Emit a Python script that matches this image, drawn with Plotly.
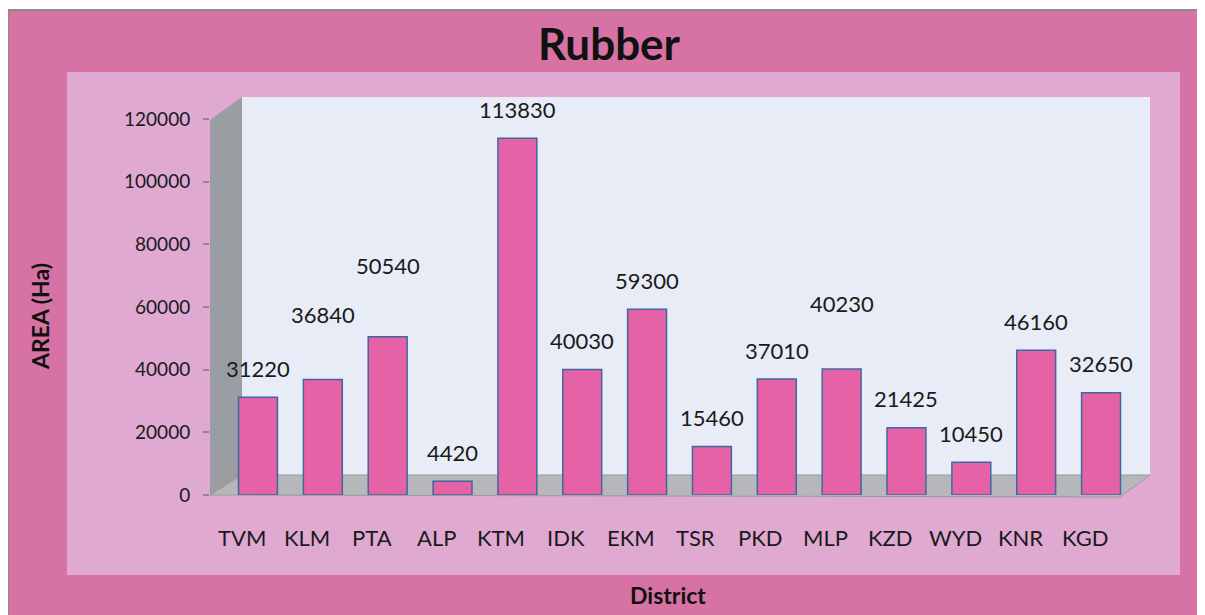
import plotly.graph_objects as go

districts = ["TVM", "KLM", "PTA", "ALP", "KTM", "IDK", "EKM", "TSR", "PKD", "MLP", "KZD", "WYD", "KNR", "KGD"]
area_ha = [31220, 36840, 50540, 4420, 113830, 40030, 59300, 15460, 37010, 40230, 21425, 10450, 46160, 32650]
y_ticks = [0, 20000, 40000, 60000, 80000, 100000, 120000]

# extra upward pixel offset of a few data labels, as placed in the original chart
label_extra_shift = {"KLM": 36, "PTA": 42, "MLP": 36}

# the page body has an 8px margin; reference pixel coords are shifted by it
OFF = 8
W, H = 1205 - OFF, 615 - OFF
L, R, T, B = 210, 1150, 97, 495  # plot area in reference pixels


def px(x):
    return (x - L) / (R - L)


def py(y):
    return (B - y) / (B - T)


FONT = "Lato"
TXT = "#1a1a1a"

fig = go.Figure()
fig.add_trace(go.Bar(
    x=districts,
    y=area_ha,
    width=0.6,
    marker=dict(color="#E562A6", line=dict(color="#41679E", width=1.5)),
    hoverinfo="x+y",
))

# data labels
for d, v in zip(districts, area_ha):
    fig.add_annotation(x=d, y=v, text=str(v), showarrow=False,
                       yshift=29 + label_extra_shift.get(d, 0),
                       font=dict(size=22, color=TXT, family=FONT))

# category labels (shifted left like the 3D original)
for d in districts:
    fig.add_annotation(x=d, y=py(537), yref="paper", text=d, showarrow=False,
                       xshift=-16, yanchor="middle",
                       font=dict(size=22, color=TXT, family=FONT))

# axis titles
fig.add_annotation(x=px(668), y=py(595), xref="paper", yref="paper", text="<b>District</b>",
                   showarrow=False, xanchor="center", yanchor="middle",
                   font=dict(size=23, color="#111", family=FONT))
fig.add_annotation(x=px(40), y=py(317), xref="paper", yref="paper", text="<b>AREA (Ha)</b>",
                   showarrow=False, xanchor="center", yanchor="middle", textangle=-90,
                   font=dict(size=23, color="#111", family=FONT))

shapes = []
# outer frame
shapes.append(dict(type="rect", xref="paper", yref="paper", layer="below",
                   x0=px(8), x1=px(1215), y0=py(625), y1=py(10),
                   fillcolor="#D672A4", line=dict(color="#8a8a8a", width=2)))
# inner lighter panel
shapes.append(dict(type="rect", xref="paper", yref="paper", layer="below",
                   x0=px(67), x1=px(1180), y0=py(575), y1=py(72),
                   fillcolor="#DFA9D2", line=dict(width=0)))
# back wall
shapes.append(dict(type="rect", xref="paper", yref="paper", layer="below",
                   x0=px(242), x1=px(1150), y0=py(475), y1=py(97),
                   fillcolor="#E8ECF6", line=dict(width=0)))
# left side wall
shapes.append(dict(type="path", xref="paper", yref="paper", layer="below",
                   path=f"M {px(210)},{py(495)} L {px(210)},{py(120)} L {px(242)},{py(97)} L {px(242)},{py(475)} Z",
                   fillcolor="#9A9DA1", line=dict(width=0)))
# floor
shapes.append(dict(type="path", xref="paper", yref="paper", layer="below",
                   path=f"M {px(210)},{py(495)} L {px(242)},{py(475)} L {px(1150)},{py(475)} L {px(1120)},{py(497)} Z",
                   fillcolor="#B5B7BA", line=dict(color="#9a9a9a", width=1)))

fig.update_layout(
    width=W, height=H,
    margin=dict(l=L - OFF, r=W - (R - OFF), t=T - OFF, b=H - (B - OFF), pad=0),
    paper_bgcolor="white",
    plot_bgcolor="rgba(0,0,0,0)",
    shapes=shapes,
    showlegend=False,
    title=dict(text="<b>Rubber</b>", x=(609 - OFF) / W, xref="container", xanchor="center",
               y=1 - (45 - OFF) / H, yanchor="middle",
               font=dict(family=FONT, size=44, color="#111")),
    font=dict(family=FONT, color=TXT),
)

fig.update_xaxes(
    range=[-0.74, 13.755],
    showgrid=False, zeroline=False, showline=False,
    ticks="", showticklabels=False,
)
fig.update_yaxes(
    range=[0, 120000 * (B - T) / 376],
    tickvals=y_ticks, ticktext=[str(v) for v in y_ticks],
    showgrid=False, zeroline=False, showline=False,
    ticks="outside", ticklen=6, tickcolor="#8a8a8a", tickwidth=1.5,
    tickfont=dict(size=19, family=FONT, color=TXT),
    ticklabelstandoff=9,
)

fig.write_html("out.html")
